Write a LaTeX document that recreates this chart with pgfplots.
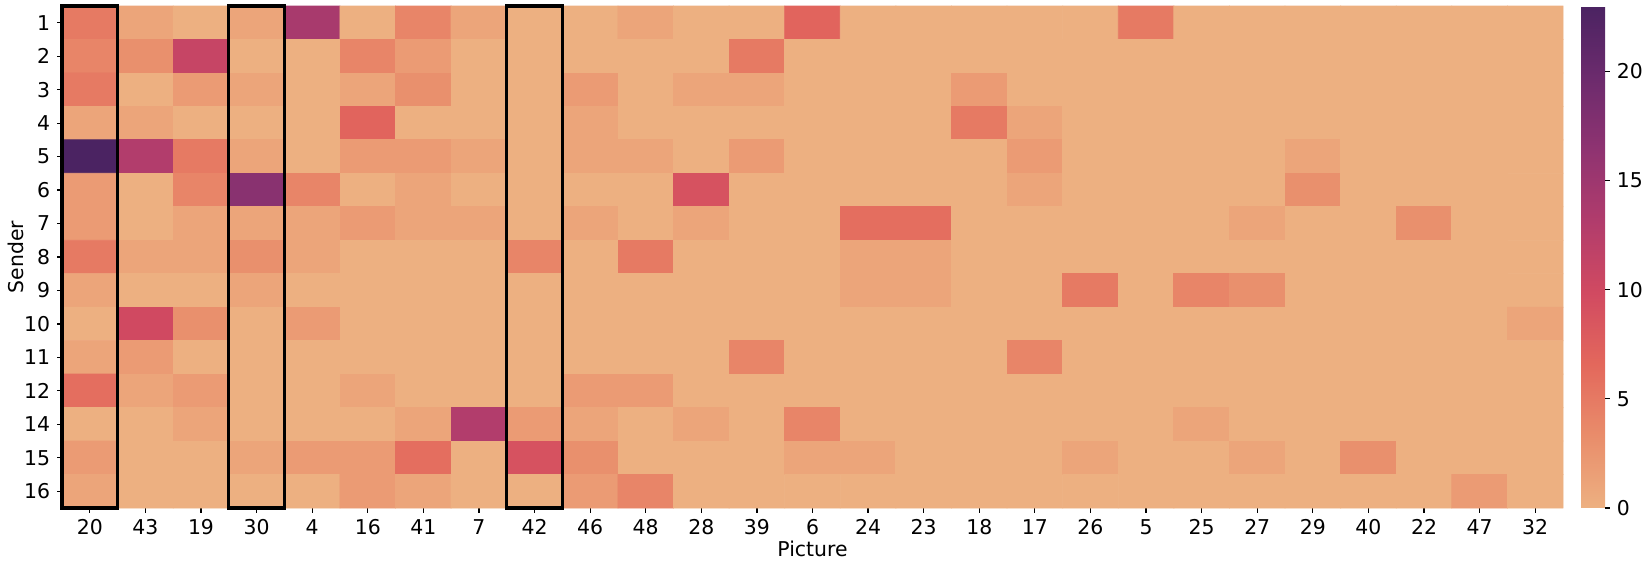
\documentclass[border=0pt]{standalone}
\usepackage{pgfplots}
\pgfplotsset{compat=1.18}
\usepackage{fontspec}
\setmainfont{DejaVu Sans}
\pgfplotsset{colormap={flare}{rgb255=(237,176,129) rgb255=(233,141,107) rgb255=(227,104,92) rgb255=(209,74,97) rgb255=(177,60,108) rgb255=(143,51,113) rgb255=(108,43,109) rgb255=(75,35,98)}}
\begin{document}
\fontsize{10.2}{12}\selectfont
\begin{tikzpicture}
\useasboundingbox (0,0) rectangle (822.5pt,283.5pt);
\begin{axis}[
  at={(31pt,29.5pt)}, anchor=south west,
  scale only axis, width=750.5pt, height=251pt,
  colormap name=flare,
  point meta min=0, point meta max=23,
  xmin=-0.5, xmax=26.5, ymin=-0.5, ymax=14.5,
  y dir=reverse, enlargelimits=false, clip=false,
  axis line style={draw=none},
  tick align=outside, major tick length=2.3pt,
  tick style={black, semithick},
  xtick={0,...,26}, ytick={0,...,14},
  xtick pos=bottom, ytick pos=left,
  xticklabels={20,43,19,30,4,16,41,7,42,46,48,28,39,6,24,23,18,17,26,5,25,27,29,40,22,47,32},
  yticklabels={1,2,3,4,5,6,7,8,9,10,11,12,14,15,16},
  xlabel={Picture}, ylabel={Sender},
  xlabel style={at={(axis description cs:0.5,0)}, anchor=center, yshift=-20.5pt},
  ylabel style={at={(axis description cs:0,0.5)}, anchor=center, yshift=23pt},
  /pgf/number format/assume math mode=true,
  colorbar,
  colorbar style={
    at={(parent axis.north east)}, anchor=north west, xshift=0.5pt,
    width=12pt,
    ytick={0,5,10,15,20}, yticklabel pos=right, ytick pos=right,
    axis line style={draw=none}, tick align=outside, major tick length=2.3pt,
    tick style={black, semithick},
    /pgf/number format/assume math mode=true,
  },
]
\addplot[matrix plot*, mesh/cols=27, point meta=explicit] coordinates {
(0,0)[5] (1,0)[1] (2,0)[0] (3,0)[1] (4,0)[14] (5,0)[0] (6,0)[4] (7,0)[1] (8,0)[0] (9,0)[0] (10,0)[1] (11,0)[0] (12,0)[0] (13,0)[7] (14,0)[0] (15,0)[0] (16,0)[0] (17,0)[0] (18,0)[0] (19,0)[5] (20,0)[0] (21,0)[0] (22,0)[0] (23,0)[0] (24,0)[0] (25,0)[0] (26,0)[0]

(0,1)[4] (1,1)[3] (2,1)[11] (3,1)[0] (4,1)[0] (5,1)[4] (6,1)[2] (7,1)[0] (8,1)[0] (9,1)[0] (10,1)[0] (11,1)[0] (12,1)[5] (13,1)[0] (14,1)[0] (15,1)[0] (16,1)[0] (17,1)[0] (18,1)[0] (19,1)[0] (20,1)[0] (21,1)[0] (22,1)[0] (23,1)[0] (24,1)[0] (25,1)[0] (26,1)[0]

(0,2)[5] (1,2)[0] (2,2)[2] (3,2)[1] (4,2)[0] (5,2)[1] (6,2)[3] (7,2)[0] (8,2)[0] (9,2)[2] (10,2)[0] (11,2)[1] (12,2)[1] (13,2)[0] (14,2)[0] (15,2)[0] (16,2)[2] (17,2)[0] (18,2)[0] (19,2)[0] (20,2)[0] (21,2)[0] (22,2)[0] (23,2)[0] (24,2)[0] (25,2)[0] (26,2)[0]

(0,3)[1] (1,3)[1] (2,3)[0] (3,3)[0] (4,3)[0] (5,3)[7] (6,3)[0] (7,3)[0] (8,3)[0] (9,3)[1] (10,3)[0] (11,3)[0] (12,3)[0] (13,3)[0] (14,3)[0] (15,3)[0] (16,3)[5] (17,3)[1] (18,3)[0] (19,3)[0] (20,3)[0] (21,3)[0] (22,3)[0] (23,3)[0] (24,3)[0] (25,3)[0] (26,3)[0]

(0,4)[23] (1,4)[13] (2,4)[5] (3,4)[1] (4,4)[0] (5,4)[2] (6,4)[2] (7,4)[1] (8,4)[0] (9,4)[1] (10,4)[1] (11,4)[0] (12,4)[2] (13,4)[0] (14,4)[0] (15,4)[0] (16,4)[0] (17,4)[2] (18,4)[0] (19,4)[0] (20,4)[0] (21,4)[0] (22,4)[1] (23,4)[0] (24,4)[0] (25,4)[0] (26,4)[0]

(0,5)[2] (1,5)[0] (2,5)[4] (3,5)[17] (4,5)[4] (5,5)[0] (6,5)[1] (7,5)[0] (8,5)[0] (9,5)[0] (10,5)[0] (11,5)[9] (12,5)[0] (13,5)[0] (14,5)[0] (15,5)[0] (16,5)[0] (17,5)[1] (18,5)[0] (19,5)[0] (20,5)[0] (21,5)[0] (22,5)[3] (23,5)[0] (24,5)[0] (25,5)[0] (26,5)[0]

(0,6)[2] (1,6)[0] (2,6)[1] (3,6)[1] (4,6)[1] (5,6)[2] (6,6)[1] (7,6)[1] (8,6)[0] (9,6)[1] (10,6)[0] (11,6)[1] (12,6)[0] (13,6)[0] (14,6)[6] (15,6)[6] (16,6)[0] (17,6)[0] (18,6)[0] (19,6)[0] (20,6)[0] (21,6)[1] (22,6)[0] (23,6)[0] (24,6)[3] (25,6)[0] (26,6)[0]

(0,7)[5] (1,7)[1] (2,7)[1] (3,7)[3] (4,7)[1] (5,7)[0] (6,7)[0] (7,7)[0] (8,7)[4] (9,7)[0] (10,7)[5] (11,7)[0] (12,7)[0] (13,7)[0] (14,7)[1] (15,7)[1] (16,7)[0] (17,7)[0] (18,7)[0] (19,7)[0] (20,7)[0] (21,7)[0] (22,7)[0] (23,7)[0] (24,7)[0] (25,7)[0] (26,7)[0]

(0,8)[1] (1,8)[0] (2,8)[0] (3,8)[1] (4,8)[0] (5,8)[0] (6,8)[0] (7,8)[0] (8,8)[0] (9,8)[0] (10,8)[0] (11,8)[0] (12,8)[0] (13,8)[0] (14,8)[1] (15,8)[1] (16,8)[0] (17,8)[0] (18,8)[5] (19,8)[0] (20,8)[4] (21,8)[3] (22,8)[0] (23,8)[0] (24,8)[0] (25,8)[0] (26,8)[0]

(0,9)[0] (1,9)[10] (2,9)[3] (3,9)[0] (4,9)[2] (5,9)[0] (6,9)[0] (7,9)[0] (8,9)[0] (9,9)[0] (10,9)[0] (11,9)[0] (12,9)[0] (13,9)[0] (14,9)[0] (15,9)[0] (16,9)[0] (17,9)[0] (18,9)[0] (19,9)[0] (20,9)[0] (21,9)[0] (22,9)[0] (23,9)[0] (24,9)[0] (25,9)[0] (26,9)[1]

(0,10)[1] (1,10)[2] (2,10)[0] (3,10)[0] (4,10)[0] (5,10)[0] (6,10)[0] (7,10)[0] (8,10)[0] (9,10)[0] (10,10)[0] (11,10)[0] (12,10)[4] (13,10)[0] (14,10)[0] (15,10)[0] (16,10)[0] (17,10)[4] (18,10)[0] (19,10)[0] (20,10)[0] (21,10)[0] (22,10)[0] (23,10)[0] (24,10)[0] (25,10)[0] (26,10)[0]

(0,11)[6] (1,11)[1] (2,11)[2] (3,11)[0] (4,11)[0] (5,11)[1] (6,11)[0] (7,11)[0] (8,11)[0] (9,11)[2] (10,11)[2] (11,11)[0] (12,11)[0] (13,11)[0] (14,11)[0] (15,11)[0] (16,11)[0] (17,11)[0] (18,11)[0] (19,11)[0] (20,11)[0] (21,11)[0] (22,11)[0] (23,11)[0] (24,11)[0] (25,11)[0] (26,11)[0]

(0,12)[0] (1,12)[0] (2,12)[1] (3,12)[0] (4,12)[0] (5,12)[0] (6,12)[1] (7,12)[13] (8,12)[2] (9,12)[1] (10,12)[0] (11,12)[1] (12,12)[0] (13,12)[4] (14,12)[0] (15,12)[0] (16,12)[0] (17,12)[0] (18,12)[0] (19,12)[0] (20,12)[1] (21,12)[0] (22,12)[0] (23,12)[0] (24,12)[0] (25,12)[0] (26,12)[0]

(0,13)[2] (1,13)[0] (2,13)[0] (3,13)[1] (4,13)[2] (5,13)[2] (6,13)[6] (7,13)[0] (8,13)[9] (9,13)[3] (10,13)[0] (11,13)[0] (12,13)[0] (13,13)[1] (14,13)[1] (15,13)[0] (16,13)[0] (17,13)[0] (18,13)[1] (19,13)[0] (20,13)[0] (21,13)[1] (22,13)[0] (23,13)[3] (24,13)[0] (25,13)[0] (26,13)[0]

(0,14)[1] (1,14)[0] (2,14)[0] (3,14)[0] (4,14)[0] (5,14)[2] (6,14)[1] (7,14)[0] (8,14)[0] (9,14)[2] (10,14)[4] (11,14)[0] (12,14)[0] (13,14)[0] (14,14)[0] (15,14)[0] (16,14)[0] (17,14)[0] (18,14)[0] (19,14)[0] (20,14)[0] (21,14)[0] (22,14)[0] (23,14)[0] (24,14)[0] (25,14)[2] (26,14)[0]
};
\addplot[black, line width=1.6pt, no markers, line join=miter] coordinates {(-0.5,-0.5) (0.5,-0.5) (0.5,14.5) (-0.5,14.5) (-0.5,-0.5) (0.5,-0.5)};
\addplot[black, line width=1.6pt, no markers, line join=miter] coordinates {(2.5,-0.5) (3.5,-0.5) (3.5,14.5) (2.5,14.5) (2.5,-0.5) (3.5,-0.5)};
\addplot[black, line width=1.6pt, no markers, line join=miter] coordinates {(7.5,-0.5) (8.5,-0.5) (8.5,14.5) (7.5,14.5) (7.5,-0.5) (8.5,-0.5)};
\end{axis}
\end{tikzpicture}
\end{document}
